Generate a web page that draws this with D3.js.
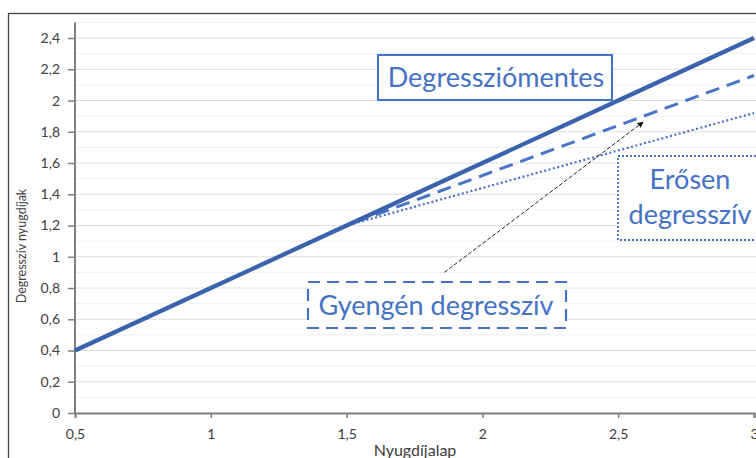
<!DOCTYPE html>
<html><head><meta charset="utf-8">
<script src="https://cdn.jsdelivr.net/npm/d3@7"></script>
<style>body{margin:0;background:#fff}svg{display:block}text{font-family:Lato,"Open Sans",sans-serif}</style>
</head><body>
<svg id="c" width="756" height="458"></svg>
<script>
const xValues = [0.5, 1, 1.5, 2, 2.5, 3];
const seriesNames = ["Degressziómentes", "Gyengén degresszív", "Erősen degresszív"];
const solidValues = [0.4, 0.8, 1.2, 1.6, 2.0, 2.4];
const dashedValues = [0.4, 0.8, 1.2, 1.52, 1.84, 2.16];
const dottedValues = [0.4, 0.8, 1.2, 1.44, 1.68, 1.92];
const xTicks = [0.5, 1, 1.5, 2, 2.5, 3];
const yTicks = [0, 0.2, 0.4, 0.6, 0.8, 1, 1.2, 1.4, 1.6, 1.8, 2, 2.2, 2.4];
const yMinor = [0.1,0.3,0.5,0.7,0.9,1.1,1.3,1.5,1.7,1.9,2.1,2.3,2.5];
const xTitle = "Nyugdíjalap";
const yTitle = "Degresszív nyugdíjak";
const arrowFrom = [1.86, 0.9];
const arrowTo = [2.59, 1.86];

const svg = d3.select("#c");
const x = d3.scaleLinear().domain([0.5, 3]).range([75, 754]);
const y = d3.scaleLinear().domain([0, 2.5]).range([413, 22.4]);
const fmt = d => String(d).replace(".", ",");

// outer frame
svg.append("rect").attr("x", 8.5).attr("y", 13.5).attr("width", 800).attr("height", 500)
  .attr("fill", "none").attr("stroke", "#444").attr("stroke-width", 1.3);

// gridlines
svg.append("g").selectAll("line").data(yMinor).join("line")
  .attr("x1", 75).attr("x2", 756).attr("y1", d => y(d)).attr("y2", d => y(d))
  .attr("stroke", "#eeeeee").attr("stroke-width", 1);
svg.append("g").selectAll("line").data(yTicks.filter(d => d > 0)).join("line")
  .attr("x1", 75).attr("x2", 756).attr("y1", d => y(d)).attr("y2", d => y(d))
  .attr("stroke", "#dedede").attr("stroke-width", 1);

// axes
const yAxis = svg.append("g").attr("transform", "translate(75,0)")
  .call(d3.axisLeft(y).tickValues(yTicks).tickFormat(fmt).tickSize(7).tickPadding(8));
const xAxis = svg.append("g").attr("transform", "translate(0,413)")
  .call(d3.axisBottom(x).tickValues(xTicks).tickFormat(fmt).tickSize(5).tickPadding(11));
[yAxis, xAxis].forEach(a => {
  a.select(".domain").attr("stroke", "#7f7f7f").attr("stroke-width", 2);
  a.selectAll(".tick line").attr("stroke", "#7f7f7f").attr("stroke-width", 1.5);
  a.selectAll("text").attr("fill", "#404040").attr("font-size", 14).attr("font-family", "Lato, sans-serif");
});
yAxis.select(".domain").attr("d", "M0," + y(2.5) + "V" + y(0));

// titles
svg.append("text").attr("transform", "translate(26,246) rotate(-90)").attr("text-anchor", "middle")
  .attr("font-size", 12.5).attr("fill", "#404040").text(yTitle);
svg.append("text").attr("x", 415).attr("y", 456).attr("text-anchor", "middle")
  .attr("font-size", 16).attr("fill", "#404040").text(xTitle);

// lines
const pts = vals => xValues.map((xv, i) => [xv, vals[i]]);
const line = d3.line().x(d => x(d[0])).y(d => y(d[1]));
svg.append("path").attr("d", line(pts(dottedValues))).attr("fill", "none")
  .attr("stroke", "#4472c4").attr("stroke-width", 2.2).attr("stroke-dasharray", "2,2.5");
svg.append("path").attr("d", line(pts(dashedValues))).attr("fill", "none")
  .attr("stroke", "#4a76c6").attr("stroke-width", 3).attr("stroke-dasharray", "14,8");
svg.append("path").attr("d", line(pts(solidValues))).attr("fill", "none")
  .attr("stroke", "#3a62ad").attr("stroke-width", 4.2);

// arrow
svg.append("defs").append("marker").attr("id", "ah").attr("viewBox", "0 0 10 10")
  .attr("refX", 8).attr("refY", 5).attr("markerWidth", 6).attr("markerHeight", 6).attr("orient", "auto")
  .append("path").attr("d", "M0,0L10,5L0,10z").attr("fill", "#111");
svg.append("line").attr("x1", x(arrowFrom[0])).attr("y1", y(arrowFrom[1]))
  .attr("x2", x(arrowTo[0])).attr("y2", y(arrowTo[1]))
  .attr("stroke", "#222").attr("stroke-width", 1).attr("stroke-dasharray", "4,2")
  .attr("marker-end", "url(#ah)");

// annotation boxes
const blue = "#4472c4";
svg.append("rect").attr("x", 378).attr("y", 55).attr("width", 234).attr("height", 45)
  .attr("fill", "#fff").attr("stroke", blue).attr("stroke-width", 2);
svg.append("text").attr("x", 496).attr("y", 87).attr("text-anchor", "middle")
  .attr("font-size", 27).attr("fill", blue).text(seriesNames[0]);

svg.append("rect").attr("x", 618).attr("y", 156).attr("width", 150).attr("height", 84)
  .attr("fill", "#fff").attr("stroke", blue).attr("stroke-width", 1.8).attr("stroke-dasharray", "2,2");
const e = svg.append("text").attr("text-anchor", "middle").attr("font-size", 27).attr("fill", blue);
e.append("tspan").attr("x", 690).attr("y", 189).text("Erősen");
e.append("tspan").attr("x", 690).attr("y", 224).text("degresszív");

svg.append("rect").attr("x", 308).attr("y", 282).attr("width", 258).attr("height", 46)
  .attr("fill", "#fff").attr("stroke", blue).attr("stroke-width", 2.2).attr("stroke-dasharray", "12,7");
svg.append("text").attr("x", 436).attr("y", 315).attr("text-anchor", "middle")
  .attr("font-size", 27).attr("fill", blue).text(seriesNames[1]);
</script>
</body></html>
